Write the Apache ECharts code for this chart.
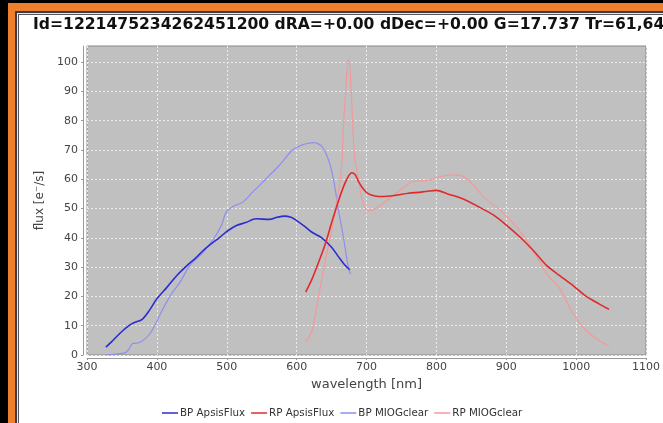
<!DOCTYPE html>
<html><head><meta charset="utf-8">
<script src="https://cdn.jsdelivr.net/npm/echarts@6/dist/echarts.min.js"></script>
<style>html,body{margin:0;padding:0;background:#fff}#c{width:663px;height:423px}</style>
</head><body><div id="c"></div>
<script>
const titleText = 'Id=1221475234262451200 dRA=+0.00 dDec=+0.00 G=17.737 Tr=61,64';
const xName = 'wavelength [nm]';
const yName = 'flux [e\u207B/s]';
const seriesNames = ['BP ApsisFlux', 'RP ApsisFlux', 'BP MIOGclear', 'RP MIOGclear'];

const bpApsisW = [327, 335, 348, 360, 367, 379, 390, 400, 414, 428, 443, 455, 466, 478, 490, 502, 514, 527, 542, 561, 572, 582, 592, 600, 611, 622, 636, 650, 660, 668, 676];
const bpApsisF = [2.7, 4.5, 7.6, 10, 11, 12.2, 15.5, 19.2, 23, 27, 30.5, 33, 35.6, 38, 40.2, 42.5, 44.2, 45.2, 46.5, 46.3, 47, 47.4, 47, 45.9, 44, 41.9, 40, 36.8, 33.5, 31, 29.1];

const rpApsisW = [613, 622, 632, 641, 651, 660, 668, 674, 679, 684, 689, 696, 703, 712, 722, 741, 760, 778, 790, 800, 816, 835, 859, 883, 901, 920, 939, 958, 977, 996, 1015, 1034, 1047];
const rpApsisF = [21.5, 25.9, 32, 37.9, 45.9, 52.7, 58, 61, 62.2, 61.5, 59, 56.5, 55, 54.3, 54.1, 54.5, 55.2, 55.6, 56, 56.2, 55, 53.6, 50.8, 47.6, 44.2, 40.2, 35.6, 30.5, 27, 23.6, 19.9, 17.3, 15.6];

const bpMiogW = [327, 340, 355, 360, 365, 374, 383, 391, 398, 405, 419, 433, 447, 466, 481, 492, 499, 509, 523, 537, 556, 575, 594, 604, 615, 625, 632, 637, 646, 653, 660, 667, 674, 677];
const bpMiogF = [0, 0.3, 0.8, 2, 3.9, 4.2, 5.5, 7.6, 10.5, 14, 20.2, 24.8, 30.5, 35, 39.6, 44, 48.7, 50.7, 52.2, 55.6, 60.1, 64.7, 70, 71.3, 72.2, 72.5, 72, 71, 66.4, 59.6, 49.3, 40.2, 29.9, 27.6];

const rpMiogW = [613, 622, 632, 641, 651, 657, 663, 665, 667, 671, 674, 676, 678, 683, 689, 694, 702, 712, 726, 745, 764, 788, 802, 821, 835, 849, 868, 892, 911, 930, 944, 958, 977, 996, 1015, 1034, 1047];
const rpMiogF = [4.6, 8.2, 20.8, 32.2, 43.5, 52, 61, 66.4, 78, 93, 100.9, 99, 90.4, 67.6, 59.6, 52.7, 49.3, 49.9, 52.2, 55.6, 59, 59.6, 60.7, 61.5, 61.3, 59, 53.9, 49.3, 44.7, 39, 33.3, 27.6, 22.5, 13.9, 8.2, 4.8, 3.1];

const xTicks = [300, 400, 500, 600, 700, 800, 900, 1000, 1100];
const yTicks = [0, 10, 20, 30, 40, 50, 60, 70, 80, 90, 100];

function pairs(w, f) { return w.map((v, i) => [v, f[i]]); }

const colors = ['#2c2cd2', '#e02a2a', '#8e8ef0', '#f29a9a'];
const widths = [1.6, 1.6, 1.2, 1.2];
const dataSets = [pairs(bpApsisW, bpApsisF), pairs(rpApsisW, rpApsisF), pairs(bpMiogW, bpMiogF), pairs(rpMiogW, rpMiogF)];

const chart = echarts.init(document.getElementById('c'), null, {renderer: 'canvas'});
const FONT = 'DejaVu Sans';
chart.setOption({
  animation: false,
  backgroundColor: '#ffffff',
  graphic: [
    {type: 'rect', z: -10, shape: {x: 0, y: 0, width: 663, height: 423}, style: {fill: '#000'}},
    {type: 'rect', z: -10, shape: {x: 8, y: 3, width: 655, height: 420}, style: {fill: '#ee7f2d'}},
    {type: 'rect', z: -10, shape: {x: 15, y: 11, width: 648, height: 412}, style: {fill: '#3c3c44'}},
    {type: 'rect', z: -10, shape: {x: 17, y: 13, width: 646, height: 410}, style: {fill: '#e8e8e8'}},
    {type: 'rect', z: -10, shape: {x: 18, y: 14, width: 645, height: 409}, style: {fill: '#55555c'}},
    {type: 'rect', z: -10, shape: {x: 19, y: 15, width: 644, height: 408}, style: {fill: '#ffffff'}}
  ],
  title: {
    text: titleText, left: 33, top: 17, padding: 0,
    textStyle: {fontFamily: FONT, fontWeight: 'bold', fontSize: 15.6, color: '#111'}
  },
  legend: {
    left: 162, top: 408, padding: 0, itemWidth: 16, itemHeight: 1.5, itemGap: 6, icon: 'rect',
    textStyle: {fontFamily: FONT, fontSize: 10.3, color: '#333', padding: [0, 0, 0, -3]},
    data: seriesNames
  },
  grid: {left: 87, right: 13, top: 46, bottom: 68, show: true, backgroundColor: '#c0c0c0', borderColor: '#888', borderWidth: 1},
  xAxis: {
    type: 'value', min: 300, max: 1100, interval: 100, offset: 3,
    name: xName, nameLocation: 'middle', nameGap: 20,
    nameTextStyle: {fontFamily: FONT, fontSize: 13, color: '#444'},
    axisLine: {show: true, onZero: false, lineStyle: {color: '#999'}},
    axisTick: {show: true, length: 2, lineStyle: {color: '#999'}},
    axisLabel: {fontFamily: FONT, fontSize: 11, color: '#444', margin: 4, customValues: xTicks, formatter: v => String(v)},
    splitLine: {show: true, lineStyle: {color: '#ececec', type: [2, 2], width: 1}}
  },
  yAxis: {
    type: 'value', min: 0, max: 105.5, interval: 10, offset: 4,
    name: yName, nameLocation: 'middle', nameGap: 35, nameRotate: 90,
    nameTextStyle: {fontFamily: FONT, fontSize: 12, color: '#444'},
    axisLine: {show: true, onZero: false, lineStyle: {color: '#999'}},
    axisTick: {show: true, length: 2, lineStyle: {color: '#999'}, customValues: yTicks},
    axisLabel: {fontFamily: FONT, fontSize: 11, color: '#444', margin: 5, customValues: yTicks, formatter: v => String(v)},
    splitLine: {show: true, lineStyle: {color: '#ececec', type: [2, 2], width: 1}}
  },
  series: seriesNames.map((n, i) => ({
    name: n, type: 'line', data: dataSets[i], symbol: 'none',
    smooth: 0.3,
    lineStyle: {color: colors[i], width: widths[i]}, itemStyle: {color: colors[i]}, z: 2 + (i < 2 ? 1 : 0)
  }))
});
</script></body></html>
